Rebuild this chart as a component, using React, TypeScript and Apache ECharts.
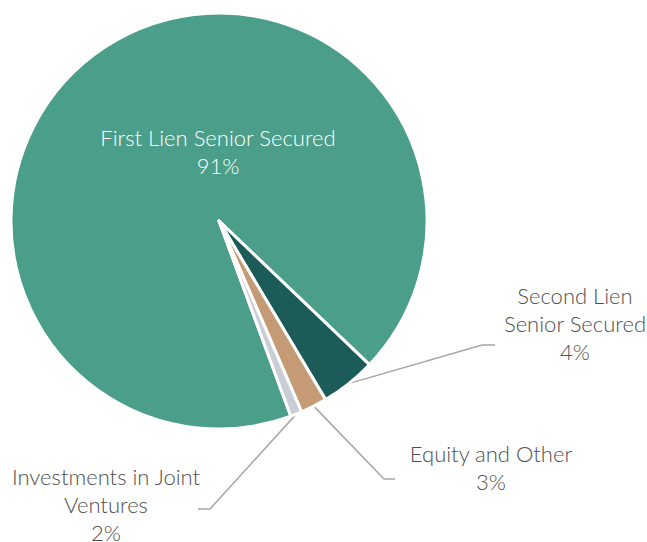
import React, { useEffect, useRef } from "react";
import * as echarts from "echarts";

// Data
const categories = [
  "First Lien Senior Secured",
  "Second Lien\nSenior Secured",
  "Equity and Other",
  "Investments in Joint\nVentures",
];
const shareValues = [92.75, 4.3, 2.06, 0.89];
const displayedPercents = ["91%", "4%", "3%", "2%"];
const sliceColors = ["#4b9e89", "#1c5c58", "#c49b74", "#c8cdd6"];

// Label placement (styling, not data)
const labelPlacement = [
  { x: 218, y: 151, line: null as number[][] | null },
  { x: 575, y: 323, line: [[482, 345], [495, 345]] },
  { x: 491, y: 467, line: [[384, 479], [395, 479]] },
  { x: 106, y: 504, line: [[210, 509], [198, 509]] },
];

const FONT = "Lato, sans-serif";

export default function App() {
  const ref = useRef<HTMLDivElement>(null);
  useEffect(() => {
    if (!ref.current) return;
    const chart = echarts.init(ref.current, undefined, { renderer: "svg" });
    const center = [219, 221];
    const radius = 208;
    const data = categories.map((name, i) => ({
      name,
      value: shareValues[i],
      itemStyle: { color: sliceColors[i] },
      label:
        i === 0
          ? { position: "inside", color: "#ffffff" }
          : { position: "outside", color: "#505050" },
      labelLine: { show: i !== 0 },
    }));
    chart.setOption({
      animation: false,
      backgroundColor: "#ffffff",
      series: [
        {
          type: "pie",
          center,
          radius,
          startAngle: 290.2,
          clockwise: true,
          avoidLabelOverlap: false,
          itemStyle: { borderColor: "#ffffff", borderWidth: 3 },
          label: {
            show: true,
            fontFamily: FONT,
            fontWeight: 300,
            fontSize: 22,
            lineHeight: 28,
            align: "center",
            formatter: (p: any) => `${categories[p.dataIndex]}\n${displayedPercents[p.dataIndex]}`,
          },
          labelLine: {
            show: true,
            smooth: false,
            lineStyle: { color: "#a6a6a6", width: 1.5 },
          },
          labelLayout: (params: any) => {
            const i = params.dataIndex;
            const pl = labelPlacement[i];
            const out: any = { x: pl.x, y: pl.y, align: "center", verticalAlign: "middle" };
            if (pl.line) {
              let start = params.labelLinePoints && params.labelLinePoints[0];
              if (!start) {
                start = [center[0], center[1]];
              }
              out.labelLinePoints = [[start[0], start[1]], pl.line[0], pl.line[1]];
            }
            return out;
          },
          data,
        },
      ],
    });
    return () => chart.dispose();
  }, []);
  return (
    <div
      ref={ref}
      style={{ position: "fixed", left: 0, top: 0, width: 647, height: 542 }}
    />
  );
}
